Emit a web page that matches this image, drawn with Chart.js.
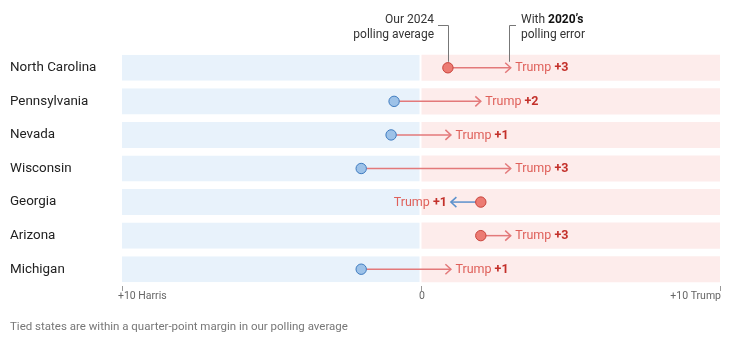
<!DOCTYPE html>
<html>
<head>
<meta charset="utf-8">
<script src="https://cdn.jsdelivr.net/npm/chart.js@4/dist/chart.umd.min.js"></script>
<style>
  html, body { margin: 0; padding: 0; background: #fff; }
  #wrap { position: relative; width: 747px; height: 346px; }
  #note { position: absolute; left: 10px; top: 319px; font: 11.5px Roboto, sans-serif; color: #777; }
</style>
</head>
<body>
<div id="wrap">
  <canvas id="c" width="747" height="346"></canvas>
  <div id="note">Tied states are within a quarter-point margin in our polling average</div>
</div>
<script>
// Battleground states, top to bottom
const states = ['North Carolina', 'Pennsylvania', 'Nevada', 'Wisconsin', 'Georgia', 'Arizona', 'Michigan'];
// 2024 polling average margin (negative = Harris lead, positive = Trump lead)
const pollingAverage = [0.9, -0.9, -1, -2, 2, 2, -2];
// Margin after applying the 2020 polling error
const with2020Error = [3, 2, 1, 3, 1, 3, 1];
// Axis range and its tick labels
const axisMin = -10;
const axisMax = 10;
const axisTicks = [-10, 0, 10];
const axisTickLabels = ['+10 Harris', '0', '+10 Trump'];

const FONT = 'Roboto, sans-serif';
const RED_DOT = '#ec7b73', RED_DOT_EDGE = '#c9433b';
const BLUE_DOT = '#9dc2e8', BLUE_DOT_EDGE = '#3f7cc0';
const RED_ARROW = '#e3797a', BLUE_ARROW = '#5c91cc';

// Arrows from the polling average to the error-adjusted margin, plus their labels
const arrowPlugin = {
  id: 'arrows',
  beforeDatasetDraw(chart, args) {
    if (args.meta.type !== 'scatter') return;
    const ctx = chart.ctx, xs = chart.scales.x, ys = chart.scales.y;
    ctx.save();
    states.forEach((s, i) => {
      const y = ys.getPixelForValue(i);
      const x0 = xs.getPixelForValue(pollingAverage[i]);
      const x1 = xs.getPixelForValue(with2020Error[i]);
      const dir = x1 >= x0 ? 1 : -1;
      const col = dir > 0 ? RED_ARROW : BLUE_ARROW;
      ctx.strokeStyle = col;
      ctx.lineWidth = 1.5;
      ctx.beginPath();
      ctx.moveTo(x0, y);
      ctx.lineTo(x1, y);
      ctx.stroke();
      ctx.beginPath();
      ctx.moveTo(x1 - dir * 5.5, y - 5);
      ctx.lineTo(x1, y);
      ctx.lineTo(x1 - dir * 5.5, y + 5);
      ctx.stroke();

      // label: "Trump" + bold margin
      const v = with2020Error[i];
      const who = v >= 0 ? 'Trump ' : 'Harris ';
      const num = '+' + Math.abs(v);
      ctx.textBaseline = 'middle';
      ctx.font = '12.5px ' + FONT;
      const w1 = ctx.measureText(who).width;
      ctx.font = 'bold 12.5px ' + FONT;
      const w2 = ctx.measureText(num).width;
      let tx = dir > 0 ? x1 + 4.5 : x1 - 4 - w1 - w2;
      ctx.textAlign = 'left';
      ctx.font = '12.5px ' + FONT;
      ctx.fillStyle = '#df605a';
      ctx.fillText(who, tx, y + 0.5);
      ctx.font = 'bold 12.5px ' + FONT;
      ctx.fillStyle = '#c3302a';
      ctx.fillText(num, tx + w1, y + 0.5);
    });
    ctx.restore();
  },
  afterDraw(chart) {
    const ctx = chart.ctx, xs = chart.scales.x, ys = chart.scales.y;
    ctx.save();
    // x-axis labels: outer ones aligned to the band edges
    ctx.font = '10.5px ' + FONT;
    ctx.fillStyle = '#666';
    ctx.textBaseline = 'middle';
    axisTicks.forEach((t, k) => {
      const x = xs.getPixelForValue(t);
      ctx.textAlign = k === 0 ? 'left' : (k === axisTicks.length - 1 ? 'right' : 'center');
      ctx.fillText(axisTickLabels[k], k === 0 ? x - 4 : x + 1, 296);
    });

    // leader notes over the first row
    const y0 = ys.getPixelForValue(0);
    const xa = Math.round(xs.getPixelForValue(pollingAverage[0]));
    const xe = Math.round(xs.getPixelForValue(with2020Error[0]) - 2);
    ctx.strokeStyle = '#777';
    ctx.lineWidth = 1;
    ctx.beginPath();
    ctx.moveTo(xa - 10, 25.5); ctx.lineTo(xa + 0.5, 25.5); ctx.lineTo(xa + 0.5, y0 - 6);
    ctx.moveTo(xe + 7, 25.5); ctx.lineTo(xe + 0.5, 25.5); ctx.lineTo(xe + 0.5, y0 - 6);
    ctx.stroke();

    ctx.fillStyle = '#333';
    ctx.font = '12px ' + FONT;
    ctx.textAlign = 'right';
    ctx.fillText('Our 2024', xa - 14, 20);
    ctx.fillText('polling average', xa - 14, 35);
    ctx.textAlign = 'left';
    const tx = xe + 12;
    ctx.fillText('With ', tx, 20);
    const ww = ctx.measureText('With ').width;
    ctx.font = 'bold 12px ' + FONT;
    ctx.fillStyle = '#111';
    ctx.fillText('2020\u2019s', tx + ww, 20);
    ctx.font = '12px ' + FONT;
    ctx.fillStyle = '#333';
    ctx.fillText('polling error', tx, 35);
    ctx.restore();
  }
};

new Chart(document.getElementById('c'), {
  type: 'bar',
  data: {
    labels: states,
    datasets: [
      {
        type: 'scatter',
        data: states.map((s, i) => ({ x: pollingAverage[i], y: s })),
        pointRadius: 5.2,
        pointBorderWidth: 1,
        pointBackgroundColor: pollingAverage.map(v => v > 0 ? RED_DOT : BLUE_DOT),
        pointBorderColor: pollingAverage.map(v => v > 0 ? RED_DOT_EDGE : BLUE_DOT_EDGE),
        order: 0
      },
      {
        data: states.map(() => [axisMin, 0]),
        backgroundColor: '#e8f2fb',
        borderColor: '#ffffff',
        borderWidth: { top: 0, right: 1, bottom: 0, left: 0 },
        borderSkipped: false,
        barPercentage: 0.776,
        categoryPercentage: 1,
        grouped: false,
        order: 2
      },
      {
        data: states.map(() => [0, axisMax]),
        backgroundColor: '#fdeceb',
        borderWidth: 0,
        barPercentage: 0.776,
        categoryPercentage: 1,
        grouped: false,
        order: 1
      }
    ]
  },
  options: {
    indexAxis: 'y',
    responsive: false,
    animation: false,
    events: [],
    layout: { padding: { left: 10, right: 27, top: 51, bottom: 0 } },
    plugins: { legend: { display: false }, tooltip: { enabled: false } },
    scales: {
      x: {
        type: 'linear',
        min: axisMin,
        max: axisMax,
        afterBuildTicks(scale) { scale.ticks = axisTicks.map(v => ({ value: v })); },
        afterFit(scale) { scale.height = 60; },
        border: { display: false },
        grid: { drawOnChartArea: false, drawTicks: true, tickLength: 5, tickColor: '#999', lineWidth: 1 },
        ticks: { display: false }
      },
      y: {
        type: 'category',
        afterFit(scale) { scale.width = 112; },
        border: { display: false },
        grid: { display: false },
        ticks: { crossAlign: 'far', color: '#222', font: { family: FONT, size: 13.4 } }
      }
    }
  },
  plugins: [arrowPlugin]
});
</script>
</body>
</html>
